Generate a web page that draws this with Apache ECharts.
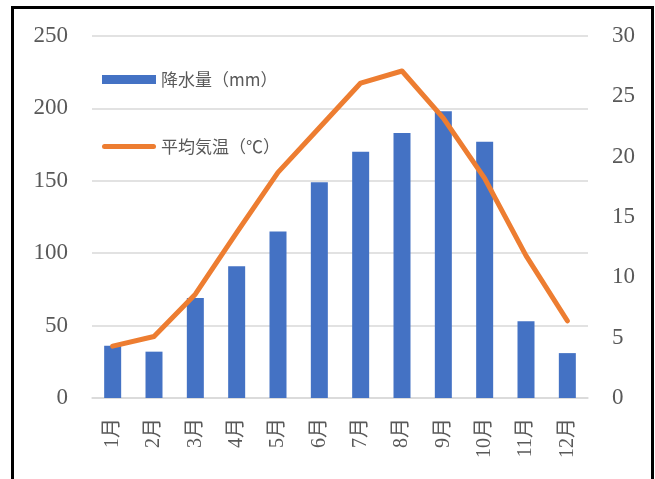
<!DOCTYPE html>
<html>
<head>
<meta charset="utf-8">
<script src="https://cdn.jsdelivr.net/npm/echarts@6/dist/echarts.min.js"></script>
<style>
  html, body { margin: 0; padding: 0; background: #fff; }
  #chart { width: 655px; height: 479px; }
</style>
</head>
<body>
<div id="chart"></div>
<script>
const months = ['1月', '2月', '3月', '4月', '5月', '6月', '7月', '8月', '9月', '10月', '11月', '12月']
const rainfall = [36, 32, 69, 91, 115, 149, 170, 183, 198, 177, 53, 31]
const temperature = [4.3, 5.1, 8.6, 13.7, 18.7, 22.4, 26.1, 27.1, 23.2, 18.2, 11.8, 6.4]

const serif = "'Liberation Serif', 'Noto Sans CJK JP', serif"
const gothic = "'Noto Sans CJK JP', sans-serif"

// thick rounded line for the temperature legend entry
const lineIcon = 'path://M2.5,0 L51.5,0 A2.5,2.5 0 0 1 51.5,5 L2.5,5 A2.5,2.5 0 0 1 2.5,0 Z'

const chart = echarts.init(document.getElementById('chart'))
chart.setOption({
  animation: false,
  backgroundColor: '#fff',
  grid: {
    left: 92,
    right: 67,
    top: 36,
    bottom: 81
  },
  legend: {
    orient: 'vertical',
    left: 97,
    top: 66,
    itemGap: 50,
    itemWidth: 54,
    itemHeight: 9,
    textStyle: {
      color: '#595959',
      fontFamily: gothic,
      fontSize: 17
    },
    data: [
      { name: '降水量（mm）', icon: 'rect' },
      { name: '平均気温（℃）', icon: lineIcon }
    ]
  },
  xAxis: {
    type: 'category',
    data: months,
    axisLine: { lineStyle: { color: '#d9d9d9', width: 1.5 } },
    axisTick: { show: false },
    axisLabel: {
      rotate: 90,
      margin: 20,
      color: '#595959',
      fontFamily: serif,
      fontSize: 20
    }
  },
  yAxis: [
    {
      type: 'value',
      min: 0,
      max: 250,
      interval: 50,
      axisLine: { show: false },
      axisTick: { show: false },
      splitLine: { lineStyle: { color: '#d9d9d9', width: 1.5 } },
      axisLabel: {
        margin: 24,
        color: '#595959',
        fontFamily: serif,
        fontSize: 23
      }
    },
    {
      type: 'value',
      min: 0,
      max: 30,
      interval: 5,
      axisLine: { show: false },
      axisTick: { show: false },
      splitLine: { show: false },
      axisLabel: {
        margin: 24,
        color: '#595959',
        fontFamily: serif,
        fontSize: 23
      }
    }
  ],
  series: [
    {
      name: '降水量（mm）',
      type: 'bar',
      data: rainfall,
      barWidth: 17,
      itemStyle: { color: '#4472c4' }
    },
    {
      name: '平均気温（℃）',
      type: 'line',
      yAxisIndex: 1,
      data: temperature,
      symbol: 'none',
      lineStyle: { color: '#ed7d31', width: 5, cap: 'round', join: 'round' },
      itemStyle: { color: '#ed7d31' }
    }
  ],
  graphic: [{
    type: 'polyline',
    shape: { points: [[12.5, 480], [12.5, 7.5], [652.5, 7.5], [652.5, 480]] },
    style: { stroke: '#000', lineWidth: 3, fill: null }
  }]
})
</script>
</body>
</html>
